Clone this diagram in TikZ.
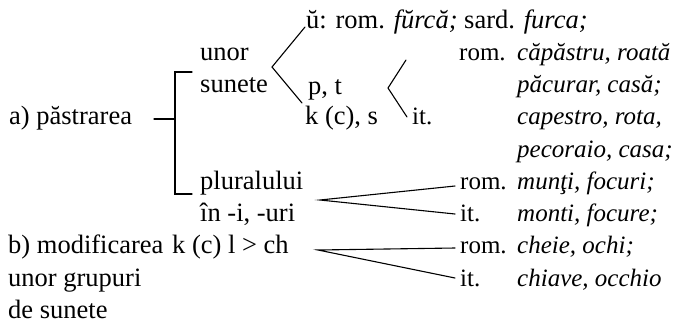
\documentclass[tikz,border=0pt]{standalone}
\usepackage{fontspec}
\setmainfont{Liberation Serif}
\begin{document}
\begin{tikzpicture}[x=1pt,y=-1pt,
  txt/.style={anchor=base west,inner sep=0pt,font=\fontsize{26.5}{30}\selectfont},
  lab/.style={anchor=base west,inner sep=0pt,font=\fontsize{25}{30}\selectfont},
  ex/.style={anchor=base west,inner sep=0pt,font=\fontsize{25}{30}\selectfont\itshape},
  ln/.style={line width=1.1pt,line cap=round,line join=miter}]
\useasboundingbox (0,0) rectangle (674,325);
% texts
\node[txt] (u) at (306,28) {ŭ: rom. \textit{fŭrcă;} sard. \textit{furca;}};
\node[txt] (unor) at (200,60) {unor};
\node[txt] (sunete) at (200,92) {sunete};
\node[txt] (pastr) at (9,124) {a) păstrarea};
\node[txt] (pt) at (308,94) {p, t};
\node[txt] (kcs) at (305,124) {k (c), s};
\node[lab] (rom1) at (459,60) {rom.};
\node[ex] (ex1) at (517,60) {căpăstru, roată};
\node[ex] (ex2) at (517,92) {păcurar, casă;};
\node[lab] (it1) at (412,124) {it.};
\node[ex] (ex3) at (517,124) {capestro, rota,};
\node[ex] (ex4) at (517,157) {pecoraio, casa;};
\node[txt] (plur) at (200,189) {pluralului};
\node[lab] (rom2) at (460,189) {rom.};
\node[ex] (ex5) at (517,189) {munţi, focuri;};
\node[txt] (in) at (200,221) {în -i, -uri};
\node[lab] (it2) at (460,221) {it.};
\node[ex] (ex6) at (517,221) {monti, focure;};
\node[txt] (modif) at (8,253) {b) modificarea};
\node[txt] (kcl) at (172,253) {k (c) l > ch};
\node[lab] (rom3) at (460,253) {rom.};
\node[ex] (ex7) at (517,253) {cheie, ochi;};
\node[txt] (grup) at (8,286) {unor grupuri};
\node[lab] (it3) at (460,286) {it.};
\node[ex] (ex8) at (517,286) {chiave, occhio};
\node[txt] (desun) at (8,318) {de sunete};
% bracket
\coordinate (brT) at (192,72);
\coordinate (brTL) at (175,72);
\coordinate (brBL) at (175,194);
\coordinate (brB) at (192,194);
\coordinate (brM) at (175,119);
\coordinate (dashL) at (154,119);
\draw[ln] (brT) -- (brTL) -- (brBL) -- (brB);
\draw[ln] (dashL) -- (brM);
% forks
\coordinate (f1) at (272,67);
\coordinate (f1a) at (305,27);
\coordinate (f1b) at (302,103);
\draw[ln] (f1a) -- (f1) -- (f1b);
\coordinate (f2) at (388,88);
\coordinate (f2a) at (406,60);
\coordinate (f2b) at (407,117);
\draw[ln] (f2a) -- (f2) -- (f2b);
\coordinate (f3) at (320,200);
\coordinate (f3a) at (455,186);
\coordinate (f3b) at (455,214);
\draw[ln] (f3a) -- (f3) -- (f3b);
\coordinate (f4) at (318,250);
\coordinate (f4a) at (455,248);
\coordinate (f4b) at (455,278);
\draw[ln] (f4a) -- (f4) -- (f4b);
\end{tikzpicture}
\end{document}
